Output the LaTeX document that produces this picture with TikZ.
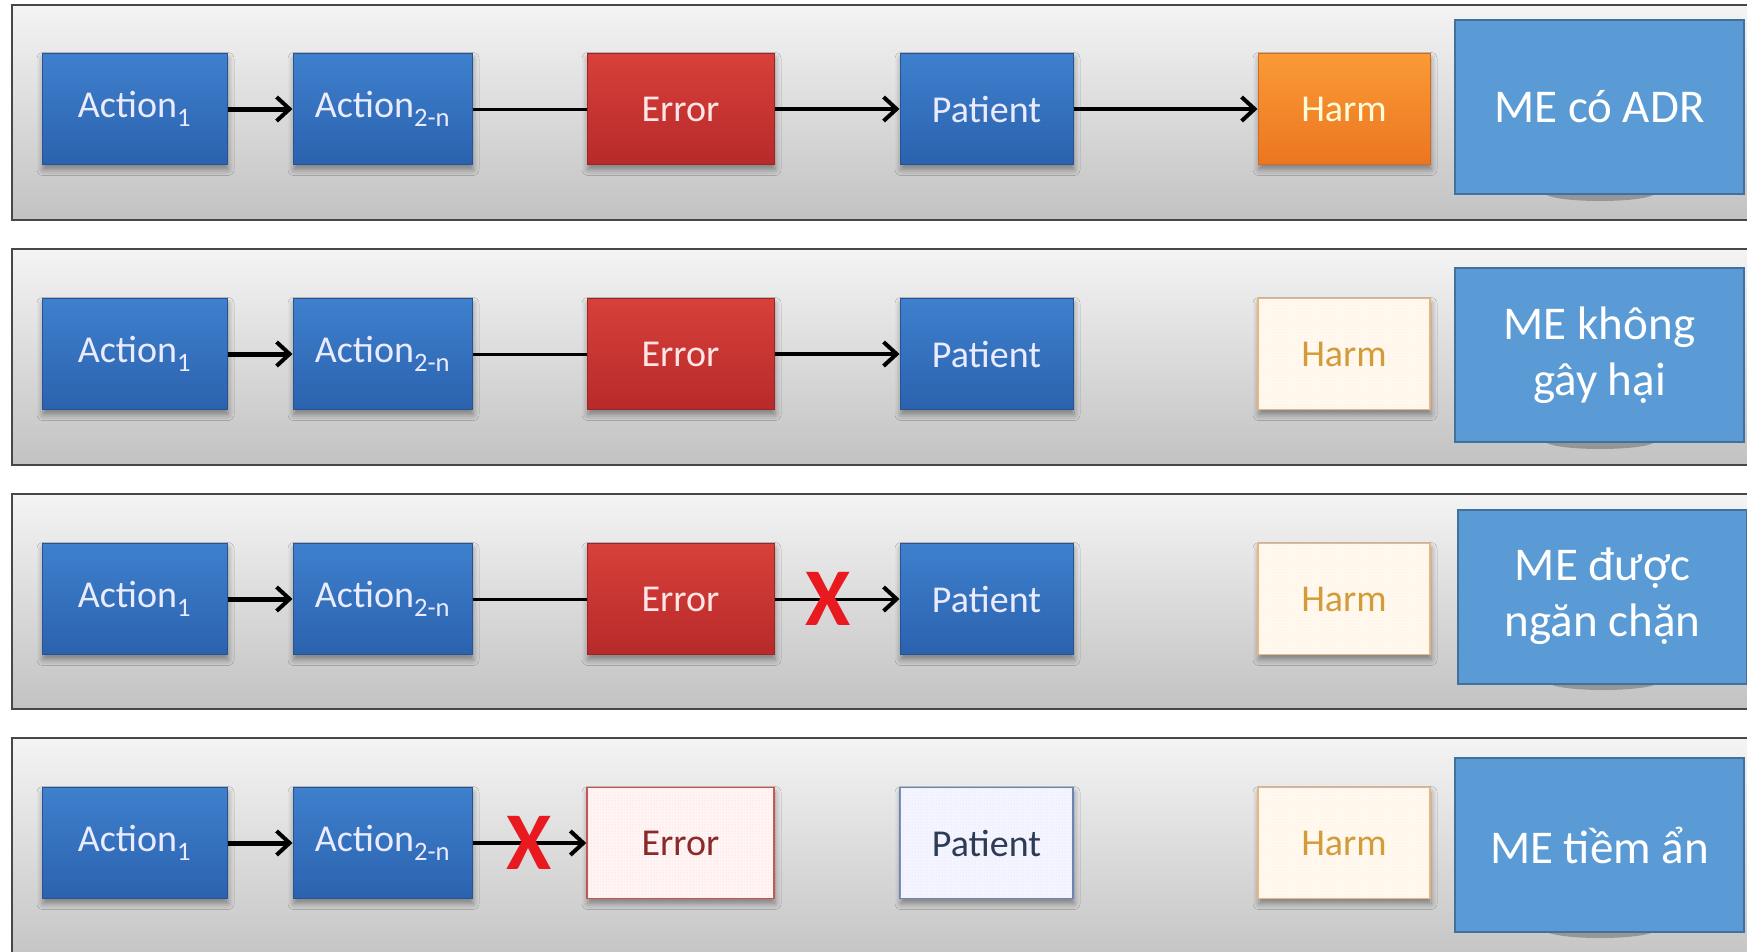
\documentclass[tikz,border=0pt]{standalone}
\usepackage{fontspec}
\setmainfont{Carlito}
\usetikzlibrary{arrows.meta,shadows.blur,patterns}

\definecolor{blueTop}{HTML}{3E80CD}
\definecolor{blueBot}{HTML}{2B62AE}
\definecolor{redTop}{HTML}{D8403A}
\definecolor{redBot}{HTML}{B72A2A}
\definecolor{orTop}{HTML}{FA9A36}
\definecolor{orBot}{HTML}{EC7620}
\definecolor{meFill}{HTML}{5B9BD5}
\definecolor{meLine}{HTML}{41719C}
\definecolor{bandTop}{HTML}{F4F4F4}
\definecolor{bandBot}{HTML}{C2C2C2}
\definecolor{xRed}{HTML}{E8191F}
\definecolor{harmText}{HTML}{D29C3A}
\definecolor{harmLine}{HTML}{E9B47E}
\definecolor{harmFill}{HTML}{FFF9F0}
\definecolor{errText}{HTML}{8A2A2A}
\definecolor{errLine}{HTML}{C85050}
\definecolor{patText}{HTML}{2E3B55}
\definecolor{patLine}{HTML}{6A84B4}

\begin{document}
\begin{tikzpicture}[x=1pt,y=-1pt,
  band/.style={draw=black!72, line width=2.5pt, top color=bandTop, bottom color=bandBot},
  box/.style={minimum height=111pt, inner sep=0pt, line width=1pt,
    font=\fontsize{38}{44}\selectfont,
    blur shadow={shadow xshift=1pt, shadow yshift=-5pt, shadow opacity=40, shadow blur radius=6pt}},
  bluebox/.style={box, top color=blueTop, bottom color=blueBot, draw=blueBot!85!black, text=white!92!blue},
  redbox/.style={box, top color=redTop, bottom color=redBot, draw=redBot!85!black, text=white!90!red},
  orbox/.style={box, top color=orTop, bottom color=orBot, draw=orBot!90!black, text=white!85!yellow},
  ghostharm/.style={box, fill=harmFill, draw=harmLine, line width=1.5pt, text=harmText,
    postaction={pattern=dots, pattern color=orange!20}},
  ghosterror/.style={box, fill=white!96!red, draw=errLine, line width=1.5pt, text=errText,
    postaction={pattern=dots, pattern color=red!22}},
  ghostpatient/.style={box, fill=white!96!blue, draw=patLine, line width=1.5pt, text=patText,
    postaction={pattern=dots, pattern color=blue!15}},
  mebox/.style={draw=meLine, line width=2pt, fill=meFill, text=white, minimum width=289pt,
    minimum height=174pt, inner sep=0pt, align=center,
    font=\fontsize{47}{56}\selectfont},
  meshade/.style={fill=black!60, opacity=0.5},
  link/.style={line width=4pt, black},
  arr/.style={link, -{Straight Barb[length=13pt, width=24pt, line width=4pt]}},
  firstarr/.style={arr, line width=5pt},
  xmark/.style={text=xRed, inner sep=0pt, font=\fontsize{82}{82}\selectfont\bfseries}
]
\clip (0,0) rectangle (1747,951);
\fill[white] (0,0) rectangle (1747,951);

% background bands
\draw[band] (12,5) rectangle (1770,220);
\draw[band] (12,249) rectangle (1770,465);
\draw[band] (12,494) rectangle (1770,709);
\draw[band] (12,738) rectangle (1770,970);

% ---------- row 1: ME có ADR ----------
\node[bluebox, minimum width=185pt] (a1) at (134.5,109) {Action\textsubscript{1}};
\node[bluebox, minimum width=179pt] (b1) at (382.5,109) {Action\textsubscript{2-n}};
\node[redbox,  minimum width=187pt] (e1) at (680.5,109) {Error};
\node[bluebox, minimum width=173pt] (p1) at (986.5,109) {Patient};
\node[orbox,   minimum width=172pt] (h1) at (1344,109) {Harm};
\draw[firstarr] (a1) -- (b1);
\draw[link, line width=3pt] (b1) -- (e1);
\draw[arr] (e1) -- (p1);
\draw[arr] (p1) -- (h1);
\fill[meshade] (1600,193) ellipse [x radius=55, y radius=8];
\node[mebox] (m1) at (1599.5,107) {ME có ADR};

% ---------- row 2: ME không gây hại ----------
\node[bluebox, minimum width=185pt] (a2) at (134.5,354) {Action\textsubscript{1}};
\node[bluebox, minimum width=179pt] (b2) at (382.5,354) {Action\textsubscript{2-n}};
\node[redbox,  minimum width=187pt] (e2) at (680.5,354) {Error};
\node[bluebox, minimum width=173pt] (p2) at (986.5,354) {Patient};
\node[ghostharm, minimum width=172pt] (h2) at (1344,354) {Harm};
\draw[firstarr] (a2) -- (b2);
\draw[link, line width=3pt] (b2) -- (e2);
\draw[arr] (e2) -- (p2);
\fill[meshade] (1600,441) ellipse [x radius=55, y radius=8];
\node[mebox] (m2) at (1599.5,355) {ME không\\gây hại};

% ---------- row 3: ME được ngăn chặn ----------
\node[bluebox, minimum width=185pt] (a3) at (134.5,599) {Action\textsubscript{1}};
\node[bluebox, minimum width=179pt] (b3) at (382.5,599) {Action\textsubscript{2-n}};
\node[redbox,  minimum width=187pt] (e3) at (680.5,599) {Error};
\node[bluebox, minimum width=173pt] (p3) at (986.5,599) {Patient};
\node[ghostharm, minimum width=172pt] (h3) at (1344,599) {Harm};
\draw[firstarr] (a3) -- (b3);
\draw[link, line width=3pt] (b3) -- (e3);
\draw[arr, line width=3pt] (e3) -- (p3);
\node[xmark] (x3) at (828,599) {X};
\fill[meshade] (1603,682) ellipse [x radius=55, y radius=8];
\node[mebox] (m3) at (1602.5,596.5) {ME được\\ngăn chặn};

% ---------- row 4: ME tiềm ẩn ----------
\node[bluebox, minimum width=185pt] (a4) at (134.5,843) {Action\textsubscript{1}};
\node[bluebox, minimum width=179pt] (b4) at (382.5,843) {Action\textsubscript{2-n}};
\node[ghosterror, minimum width=187pt] (e4) at (680.5,843) {Error};
\node[ghostpatient, minimum width=173pt] (p4) at (986.5,843) {Patient};
\node[ghostharm, minimum width=172pt] (h4) at (1344,843) {Harm};
\draw[firstarr] (a4) -- (b4);
\draw[arr] (b4) -- (e4);
\node[xmark] (x4) at (529,843) {X};
\fill[meshade] (1600,930) ellipse [x radius=55, y radius=8];
\node[mebox] (m4) at (1599.5,845) {ME tiềm ẩn};
\end{tikzpicture}
\end{document}
